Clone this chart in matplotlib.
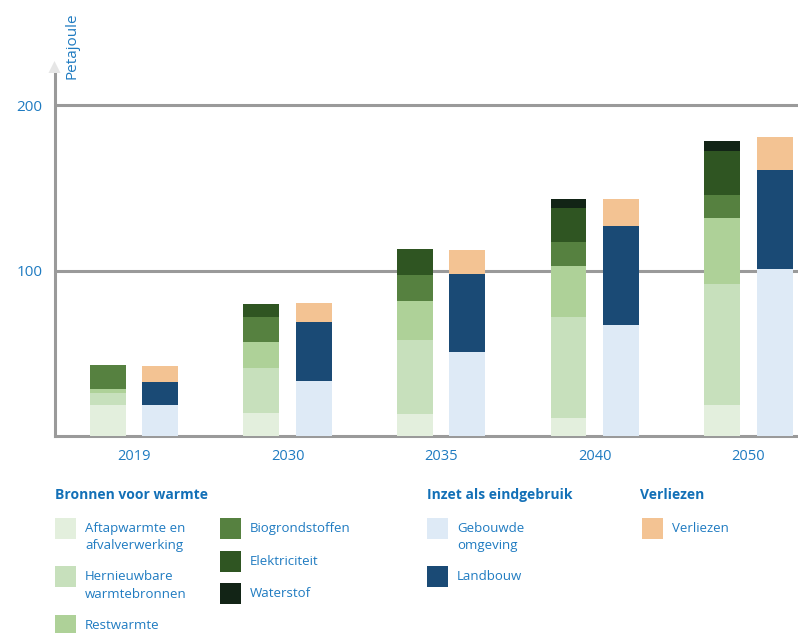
import matplotlib
matplotlib.use("Agg")
from matplotlib import pyplot as plt
from matplotlib.patches import Rectangle, Polygon
import numpy as np

plt.rcParams['font.family'] = ['Open Sans', 'DejaVu Sans']

# data (Petajoule)
years = ['2019', '2030', '2035', '2040', '2050']

# bronnen voor warmte
aftap = [19, 14, 13, 11, 19]
hernieuwbaar = [7, 27, 45, 61, 73]
restwarmte = [2.5, 16, 23.5, 31, 39.5]
biogrond = [14.5, 15, 16, 14, 14]
elektriciteit = [0, 8, 15.5, 21, 26.5]
waterstof = [0, 0, 0, 5.5, 6.5]

# inzet als eindgebruik + verliezen
gebouwd = [19, 33, 51, 67, 101]
landbouw = [13.5, 36, 47, 60, 60]
verliezen = [10, 11.5, 14.5, 16, 19.5]

src_names = ['Aftapwarmte en\nafvalverwerking', 'Hernieuwbare\nwarmtebronnen', 'Restwarmte',
             'Biogrondstoffen', 'Elektriciteit', 'Waterstof']
src_colors = ['#e3efdd', '#c7e0bc', '#aed198', '#568140', '#2f5522', '#122416']
use_names = ['Gebouwde\nomgeving', 'Landbouw']
use_colors = ['#deeaf6', '#1a4a75']
loss_names = ['Verliezen']
loss_colors = ['#f3c393']

BLUE = '#1f7bc1'
HEAD = '#1370b7'
W, H = 798, 633


def fx(x):
    return x / W


def fy(y):
    return 1 - y / H


fig = plt.figure(figsize=(W / 100, H / 100), dpi=100)
ax = fig.add_axes([fx(55), fy(436), (798 - 55) / W, (436 - 72) / H])

x = np.arange(len(years))
bw = 0.234
off = 0.171

src_series = [aftap, hernieuwbaar, restwarmte, biogrond, elektriciteit, waterstof]
bottom = np.zeros(len(years))
for vals, col in zip(src_series, src_colors):
    ax.bar(x - off, vals, bw, bottom=bottom, color=col, zorder=3)
    bottom += np.array(vals)

bottom = np.zeros(len(years))
for vals, col in zip([gebouwd, landbouw, verliezen], use_colors + loss_colors):
    ax.bar(x + off, vals, bw, bottom=bottom, color=col, zorder=3)
    bottom += np.array(vals)

ax.set_xlim(-0.514, 4.323)
ax.set_ylim(0, 220)

for s in ['top', 'right']:
    ax.spines[s].set_visible(False)
ax.spines['left'].set_color('#9a9a9a')
ax.spines['left'].set_linewidth(2.2)
ax.spines['bottom'].set_color('#9a9a9a')
ax.spines['bottom'].set_linewidth(2.2)
for yv in [100, 200]:
    ax.axhline(yv, color='#9a9a9a', lw=2.2, zorder=1)

ax.set_yticks([100, 200])
ax.set_yticklabels(['100', '200'], color=BLUE, fontsize=11)
ax.tick_params(axis='y', length=0, pad=9)
ax.set_xticks(x)
ax.set_xticklabels(years, color=BLUE, fontsize=10.5)
ax.tick_params(axis='x', length=0, pad=9)

# arrow head on top of y axis
fig.add_artist(Polygon([(fx(48.5), fy(73)), (fx(60.5), fy(73)), (fx(54.5), fy(61))],
                       closed=True, transform=fig.transFigure, color='#e6e6e6', lw=0))
fig.text(fx(72), fy(46), 'Petajoule', rotation=90, color=BLUE, fontsize=11,
         ha='center', va='center')

# legend drawn by hand
def legend_block(title, names, colors, x0, rows):
    fig.text(fx(x0), fy(495), title, color=HEAD, fontsize=10, fontweight='bold',
             ha='left', va='center')
    for (name, col), (lx, ly) in zip(zip(names, colors), rows):
        fig.add_artist(Rectangle((fx(lx), fy(ly + 21)), 21 / W, 21 / H,
                                 transform=fig.transFigure, color=col, lw=0))
        fig.text(fx(lx + 30), fy(ly + 4), name, color=BLUE, fontsize=9.5,
                 ha='left', va='top', linespacing=1.45)


legend_block('Bronnen voor warmte', src_names, src_colors, 55,
             [(55, 518), (55, 566), (55, 615), (220, 518), (220, 551), (220, 583)])
legend_block('Inzet als eindgebruik', use_names, use_colors, 427,
             [(427, 518), (427, 566)])
legend_block('Verliezen', loss_names, loss_colors, 640, [(642, 518)])

fig.savefig('out.png', dpi=100)
